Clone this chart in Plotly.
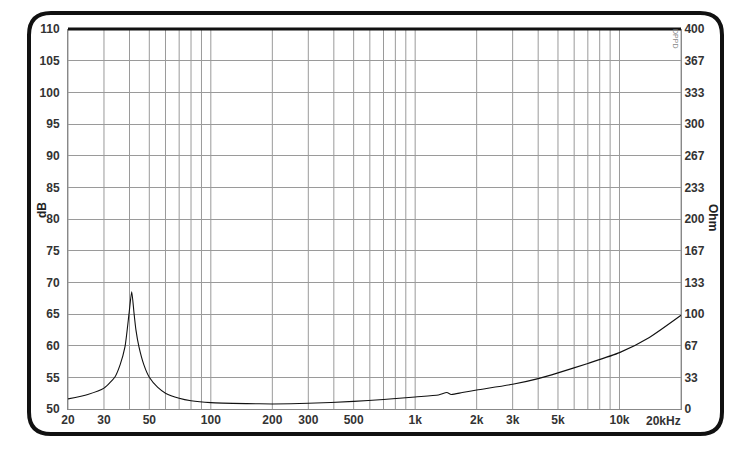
import plotly.graph_objects as go

freq = [20, 25, 30, 34, 36, 38, 39.8, 41, 42.1, 43, 44.5, 47, 50, 55, 60, 70, 80, 100,
        150, 200, 300, 500, 700, 1000, 1300, 1430, 1500, 1700, 2000, 3000, 4000, 5000,
        7000, 10000, 14000, 20000]
spl_db = [51.6, 52.3, 53.3, 55.1, 57.0, 59.8, 65.1, 68.5, 65.1, 62.5, 59.8, 57.0, 55.0,
          53.4, 52.5, 51.7, 51.3, 51.0, 50.85, 50.8, 50.9, 51.2, 51.5, 51.9, 52.2, 52.6,
          52.3, 52.6, 53.0, 53.9, 54.8, 55.7, 57.2, 58.9, 61.3, 64.8]

x_tick_vals = [20, 30, 50, 100, 200, 300, 500, 1000, 2000, 3000, 5000, 10000]
x_tick_text = ["20", "30", "50", "100", "200", "300", "500", "1k", "2k", "3k", "5k", "10k"]
x_last_label = "20kHz"
x_grid = [20, 30, 40, 50, 60, 70, 80, 90, 100, 200, 300, 400, 500, 600, 700, 800, 900,
          1000, 2000, 3000, 4000, 5000, 6000, 7000, 8000, 9000, 10000, 20000]
db_ticks = [50, 55, 60, 65, 70, 75, 80, 85, 90, 95, 100, 105, 110]
ohm_text = ["0", "33", "67", "100", "133", "167", "200", "233", "267", "300", "333", "367", "400"]

# page body has an 8px margin: work in screen pixels and shift
OFF = 8
W, H = 756 - OFF, 451 - OFF
L, R, T, B = 68, 681, 29, 409  # screen pixels of plot area

def px(x):
    return (x - L) / (R - L)

def py(y):
    return (B - y) / (B - T)

font = dict(family="Liberation Sans, Arial", size=12, color="#333333", weight="bold")

fig = go.Figure()
fig.add_trace(go.Scatter(x=freq, y=spl_db, mode="lines",
                         line=dict(color="#111111", width=1.1, shape="spline", smoothing=0.6),
                         hoverinfo="skip", showlegend=False))
fig.add_trace(go.Scatter(x=[20, 20000], y=[0, 400], yaxis="y2", mode="lines", line=dict(width=0),
                         hoverinfo="skip", showlegend=False, opacity=0))

for f in x_grid:
    fig.add_shape(type="line", xref="x", yref="paper", x0=f, x1=f, y0=0, y1=1,
                  line=dict(color="#9a9a9a", width=1), layer="below")

fig.update_layout(
    width=W, height=H,
    margin=dict(l=L - OFF, r=(756 - OFF) - (R - OFF), t=T - OFF, b=(451 - OFF) - (B - OFF), pad=0),
    paper_bgcolor="white", plot_bgcolor="white",
    xaxis=dict(type="log", range=[1.30103, 4.30103], tickvals=x_tick_vals, ticktext=x_tick_text,
               showgrid=False, zeroline=False, ticks="", tickfont=font,
               showline=True, linecolor="#888888", linewidth=1, mirror=False),
    yaxis=dict(range=[50, 110], tickvals=db_ticks, showgrid=True, gridcolor="#9a9a9a", gridwidth=1,
               zeroline=False, ticks="", tickfont=font, showline=True, linecolor="#888888", linewidth=1,
               ticklabelstandoff=5),
    yaxis2=dict(range=[0, 400], overlaying="y", side="right",
                tickvals=[i * 400 / 12 for i in range(13)], ticktext=ohm_text,
                showgrid=False, zeroline=False, ticks="", tickfont=font,
                showline=True, linecolor="#888888", linewidth=1),
)

fig.add_annotation(text=x_last_label, xref="paper", yref="paper", x=px(683), y=py(421),
                   xanchor="right", yanchor="middle", showarrow=False, font=font)

# thick top line
fig.add_shape(type="line", xref="paper", yref="paper", x0=0, x1=1, y0=1, y1=1,
              line=dict(color="#111111", width=3))

# rounded frame
x0, x1, y0, y1, r = px(29), px(722), py(434), py(13), 22
rx, ry = r / (R - L), r / (B - T)
path = (f"M {x0+rx},{y1} L {x1-rx},{y1} Q {x1},{y1} {x1},{y1-ry} "
        f"L {x1},{y0+ry} Q {x1},{y0} {x1-rx},{y0} L {x0+rx},{y0} Q {x0},{y0} {x0},{y0+ry} "
        f"L {x0},{y1-ry} Q {x0},{y1} {x0+rx},{y1} Z")
fig.add_shape(type="path", xref="paper", yref="paper", path=path,
              line=dict(color="#111111", width=4))

fig.add_annotation(text="dB", xref="paper", yref="paper", x=px(42), y=py(210), textangle=-90,
                   xanchor="center", yanchor="middle",
                   showarrow=False, font=dict(family="Liberation Sans, Arial", size=12, color="#222", weight="bold"))
fig.add_annotation(text="Ohm", xref="paper", yref="paper", x=px(713), y=py(217), textangle=90,
                   xanchor="center", yanchor="middle",
                   showarrow=False, font=dict(family="Liberation Sans, Arial", size=12, color="#222", weight="bold"))
fig.add_annotation(text="DPPD", xref="paper", yref="paper", x=px(675), y=py(38), textangle=90,
                   xanchor="center", yanchor="middle",
                   showarrow=False, font=dict(family="Liberation Sans, Arial", size=7, color="#888"))

fig.write_html("out.html")
